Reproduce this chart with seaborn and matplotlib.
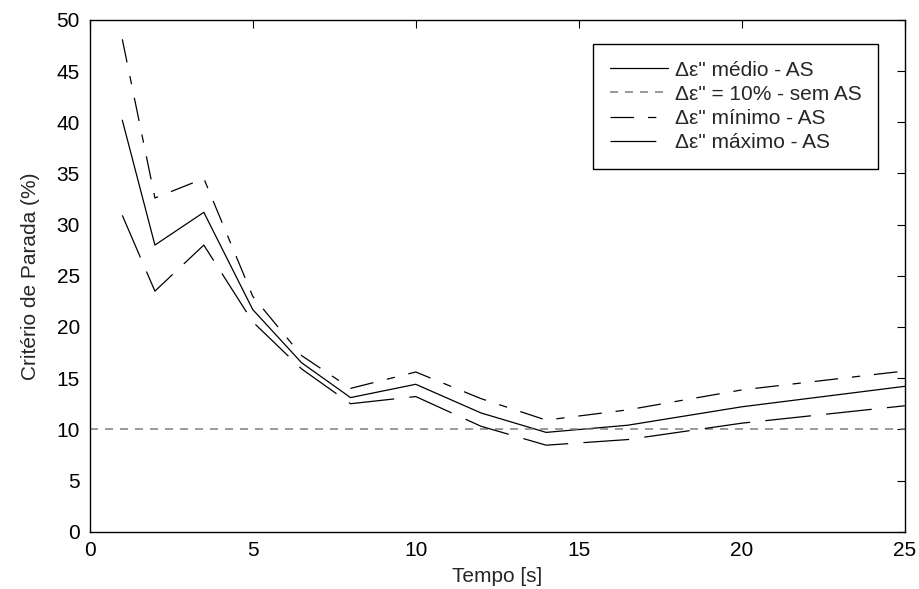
import seaborn as sns
import matplotlib.pyplot as plt
import pandas as pd

# tempo [s]
tempo = [1, 2, 3.5, 5, 6.5, 8, 10, 12, 14, 16.5, 20, 25]
# criterio de parada (%)
medio = [40.2, 28.0, 31.2, 21.7, 16.5, 13.1, 14.4, 11.6, 9.7, 10.4, 12.2, 14.2]
minimo = [48.1, 32.6, 34.5, 23.0, 17.2, 14.0, 15.6, 13.0, 10.9, 11.9, 13.85, 15.7]
maximo = [30.9, 23.5, 28.0, 20.5, 15.9, 12.5, 13.2, 10.3, 8.45, 9.0, 10.6, 12.3]
limite = 10

labels = ['\u0394\u03b5" médio - AS', '\u0394\u03b5" = 10% - sem AS',
          '\u0394\u03b5" mínimo - AS', '\u0394\u03b5" máximo - AS']

sns.set_theme(style='white')
plt.rcParams['font.family'] = ['Liberation Sans', 'DejaVu Sans']
plt.rcParams['lines.scale_dashes'] = False

df = pd.DataFrame({'tempo': tempo, 'medio': medio, 'minimo': minimo, 'maximo': maximo})

fig = plt.figure(figsize=(9.2, 5.89), dpi=100)
ax = fig.add_axes([0.0975, 0.0973, 0.886, 0.869])

sns.lineplot(data=df, x='tempo', y='medio', ax=ax, color='black', lw=0.9,
             label=labels[0])
ax.axhline(limite, color='#7f7f7f', lw=1.1, linestyle=(0, (5.8, 5.0)),
           label=labels[1])
sns.lineplot(data=df, x='tempo', y='minimo', ax=ax, color='black', lw=0.9,
             linestyle=(0, (17, 10, 6, 10)), label=labels[2])
sns.lineplot(data=df, x='tempo', y='maximo', ax=ax, color='black', lw=0.9,
             linestyle=(0, (33, 11)), label=labels[3])

ax.set_xlim(0, 25)
ax.set_ylim(0, 50)
ax.set_xticks(range(0, 26, 5))
ax.set_yticks(range(0, 51, 5))
ax.tick_params(direction='in', top=True, right=True, length=6, width=0.8,
               labelsize=15, pad=7, colors='black')
for s in ax.spines.values():
    s.set_color('black')
    s.set_linewidth(1.0)

ax.set_xlabel('Tempo [s]', fontsize=15, labelpad=5)
ax.set_ylabel('Critério de Parada (%)', fontsize=15, labelpad=12)

leg = ax.legend(loc='upper right', bbox_to_anchor=(0.967, 0.953), fontsize=15,
                frameon=True, fancybox=False, edgecolor='black', framealpha=1,
                handlelength=2.8, handletextpad=0.3, labelspacing=0.25,
                borderpad=0.8, borderaxespad=0)
leg.get_frame().set_linewidth(1.0)

fig.savefig('out.png', dpi=100)
